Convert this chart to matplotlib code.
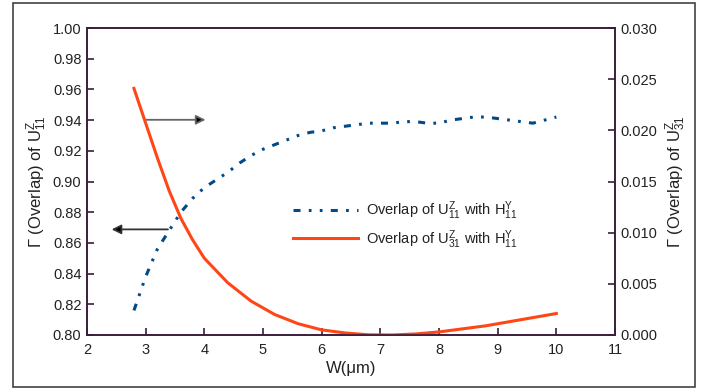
import matplotlib

matplotlib.use("Agg")

import matplotlib.pyplot as plt
from matplotlib.patches import Rectangle, FancyArrowPatch

plt.rcParams["font.family"] = ["Liberation Sans", "DejaVu Sans"]
plt.rcParams["mathtext.fontset"] = "custom"
plt.rcParams["mathtext.rm"] = "Liberation Sans"
plt.rcParams["mathtext.it"] = "Liberation Sans"

# U11 overlap (left axis)
w_u11 = [2.8, 3.0, 3.2, 3.4, 3.6, 3.8, 4.0, 4.2, 4.4, 4.6, 4.8, 5.0, 5.2, 5.4,
         5.6, 5.8, 6.0, 6.2, 6.4, 6.6, 6.8, 7.0, 7.2, 7.4, 7.6, 7.8, 8.0, 8.2,
         8.4, 8.6, 8.8, 9.0, 9.2, 9.4, 9.6, 9.8, 10.0]
g_u11 = [0.816, 0.838, 0.856, 0.868, 0.880, 0.889, 0.896, 0.901, 0.906, 0.912,
         0.917, 0.921, 0.924, 0.927, 0.930, 0.932, 0.933, 0.935, 0.936, 0.937,
         0.938, 0.938, 0.938, 0.939, 0.939, 0.938, 0.938, 0.940, 0.941, 0.942,
         0.942, 0.941, 0.940, 0.939, 0.938, 0.940, 0.942]

# U31 overlap (right axis)
w_u31 = [2.8, 3.0, 3.2, 3.4, 3.6, 3.8, 4.0, 4.4, 4.8, 5.2, 5.6, 6.0, 6.4, 6.8,
         7.2, 7.6, 8.0, 8.4, 8.8, 9.2, 9.6, 10.0]
g_u31 = [0.0241, 0.0207, 0.0173, 0.0141, 0.0114, 0.0093, 0.0075, 0.0051,
         0.0033, 0.0020, 0.0011, 0.0005, 0.0002, 0.00002, 0.0, 0.0001, 0.0003,
         0.0006, 0.0009, 0.0013, 0.0017, 0.0021]

BLUE = "#004a8a"
RED = "#ff4616"
SPINE = "#3a1d3a"

fig = plt.figure(figsize=(7.01, 3.90), dpi=100)
fig.patches.append(Rectangle((13 / 701, 1 - 387 / 390), 682 / 701, 384 / 390,
                             transform=fig.transFigure, fill=False,
                             ec="#333333", lw=1.1))

ax = fig.add_axes([87 / 701, 1 - 335 / 390, 528 / 701, 307 / 390])
ax2 = ax.twinx()

l1, = ax.plot(w_u11, g_u11, color=BLUE, lw=2.2,
              ls=(0, (2.3, 2.7, 0.9, 2.7, 0.9, 2.7)),
              label=r"Overlap of U$^{\rm Z}_{11}$ with H$^{\rm Y}_{11}$")
l2, = ax2.plot(w_u31, g_u31, color=RED, lw=2.2,
               label=r"Overlap of U$^{\rm Z}_{31}$ with H$^{\rm Y}_{11}$")

ax.set_xlim(2, 11)
ax.set_ylim(0.80, 1.00)
ax2.set_ylim(0.0, 0.030)
ax.set_xticks(range(2, 12))
ax.set_yticks([0.80 + 0.02 * i for i in range(11)])
ax.set_yticklabels([f"{0.80 + 0.02 * i:.2f}" for i in range(11)])
ax2.set_yticks([0.005 * i for i in range(7)])
ax2.set_yticklabels([f"{0.005 * i:.3f}" for i in range(7)])

for a in (ax, ax2):
    for s in a.spines.values():
        s.set_color(SPINE)
        s.set_linewidth(1.2)
    a.tick_params(direction="in", length=5, width=1.2, color=SPINE,
                  labelsize=10.5, labelcolor="#222222", pad=4)
ax.tick_params(axis="x", pad=6)

ax.set_xlabel("W(μm)", fontsize=12, color="#222222", labelpad=3)
ax.set_ylabel(r"Γ (Overlap) of U$^{\rm Z}_{11}$", fontsize=12, color="#222222",
              labelpad=3)
ax2.set_ylabel(r"Γ (Overlap) of U$^{\rm Z}_{31}$", fontsize=12,
               color="#222222", rotation=90, labelpad=4)

leg = ax.legend(handles=[l1, l2], loc="upper left",
                bbox_to_anchor=(0.366, 0.485), frameon=False, fontsize=10.5,
                handlelength=4.4, handletextpad=0.6, labelspacing=0.42)
for t in leg.get_texts():
    t.set_color("#222222")

# arrows pointing to each curve's axis
ax.add_patch(FancyArrowPatch((3.0, 0.9402), (4.02, 0.9402), arrowstyle="-|>",
                             mutation_scale=14, lw=1.3, ec="#666666",
                             fc="black", shrinkA=0, shrinkB=0))
ax.add_patch(FancyArrowPatch((3.38, 0.8688), (2.42, 0.8688), arrowstyle="-|>",
                             mutation_scale=14, lw=1.3, ec="#333333",
                             fc="black", shrinkA=0, shrinkB=0))

fig.savefig("out.png", dpi=100)
